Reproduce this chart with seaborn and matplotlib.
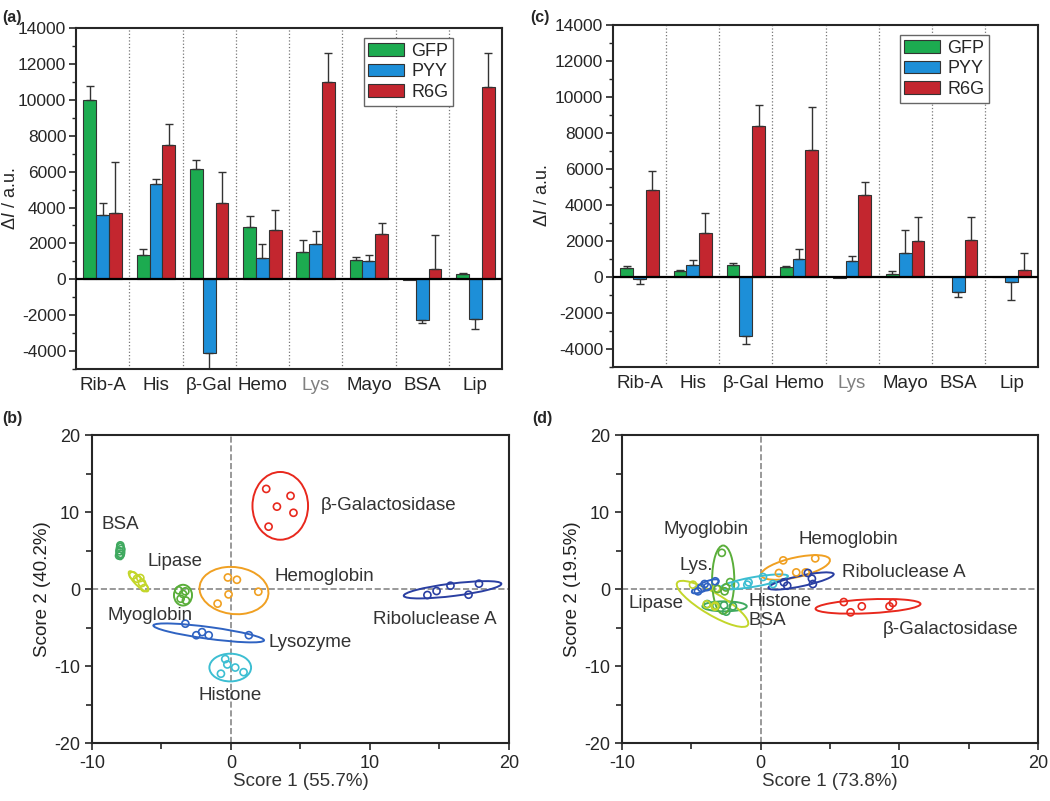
"""
plot.py

Fluorescence response bars (a, c) and PCA score plots (b, d).
"""

import matplotlib.pyplot as plt
import numpy as np
import pandas as pd
import seaborn as sns
from matplotlib.patches import Ellipse

# --- bar panels -------------------------------------------------------------
CATEGORIES = ["Rib-A", "His", "\u03b2-Gal", "Hemo", "Lys", "Mayo", "BSA", "Lip"]
DYES = ["GFP", "PYY", "R6G"]
DYE_COLORS = ["#1cab50", "#1d8fd8", "#c3262f"]

# panel (a)
A_GFP = [10000, 1350, 6150, 2900, 1500, 1100, -50, 300]
A_PYY = [3600, 5300, -4100, 1200, 1950, 1030, -2250, -2200]
A_R6G = [3700, 7500, 4230, 2770, 11020, 2540, 590, 10720]
A_GFP_ERR = [780, 350, 520, 600, 700, 150, 0, 70]
A_PYY_ERR = [660, 300, 890, 780, 760, 350, 170, 550]
A_R6G_ERR = [2850, 1130, 1740, 1070, 1610, 590, 1850, 1910]

# panel (c)
C_GFP = [520, 315, 650, 530, -30, 180, 0, 20]
C_PYY = [-90, 650, -3300, 1020, 910, 1310, -830, -300]
C_R6G = [4810, 2460, 8370, 7060, 4570, 2000, 2060, 410]
C_GFP_ERR = [70, 85, 130, 60, 0, 130, 0, 0]
C_PYY_ERR = [300, 310, 400, 550, 260, 1280, 280, 1000]
C_R6G_ERR = [1080, 1100, 1170, 2380, 690, 1310, 1290, 920]

Y_TICKS = list(range(-4000, 14001, 2000))

# --- score panels -----------------------------------------------------------
PROTEINS = ["BSA", "Lipase", "Myoglobin", "Hemoglobin", "\u03b2-Galactosidase",
            "Lysozyme", "Histone", "Riboluclease A"]
PROTEIN_COLORS = ["#3fa95f", "#c3d62a", "#5aae3a", "#f0a022", "#e8281d",
                  "#2f63c2", "#3cbed2", "#2a3fa2"]
B_LABELS = PROTEINS
D_LABELS = ["BSA", "Lipase", "Myoglobin", "Hemoglobin", "\u03b2-Galactosidase",
            "Lys.", "Histone", "Riboluclease A"]

# panel (b): five replicate scores per protein
B_X = [[-7.96, -7.9, -8.0, -7.93, -8.05],
       [-7.05, -6.76, -6.52, -6.4, -6.23],
       [-3.76, -3.45, -3.62, -3.24, -3.28],
       [-0.22, 0.43, -0.17, -0.96, 1.97],
       [2.54, 4.29, 3.31, 4.5, 2.71],
       [-3.28, -2.49, -2.08, -1.6, 1.29],
       [-0.41, -0.26, 0.31, 0.91, -0.72],
       [14.14, 14.8, 15.8, 17.1, 17.85]]
B_Y = [[5.67, 5.2, 4.9, 4.55, 4.33],
       [1.77, 1.34, 1.43, 0.78, 0.13],
       [-0.17, -0.65, -1.26, -1.5, -0.3],
       [1.5, 1.2, -0.7, -1.9, -0.35],
       [13.0, 12.1, 10.7, 9.9, 8.1],
       [-4.5, -6.0, -5.6, -6.0, -6.0],
       [-9.1, -9.8, -10.2, -10.8, -11.0],
       [-0.78, -0.26, 0.43, -0.74, 0.69]]
# confidence ellipses: centre x, centre y, width, height, angle
B_ELL_X = [-7.96, -6.65, -3.45, 0.22, 3.55, -1.6, -0.05, 15.95]
B_ELL_Y = [4.9, 1.0, -0.8, -0.2, 10.8, -5.7, -10.2, -0.1]
B_ELL_W = [0.6, 2.9, 1.3, 4.9, 4.0, 8.2, 3.0, 7.2]
B_ELL_H = [2.1, 0.7, 2.7, 6.2, 8.8, 1.5, 3.6, 1.6]
B_ELL_A = [0, -64, 0, 12, 0, -14, 0, 13]
B_LABEL_X = [-9.3, -6.0, -8.9, 3.1, 6.45, 2.7, -2.35, 10.2]
B_LABEL_Y = [8.4, 3.6, -3.5, 1.6, 10.8, -7.0, -13.8, -3.9]

# panel (d)
D_X = [[-3.85, -3.2, -2.64, -2.48, -2.0],
       [-4.88, -3.27, -3.3, -3.9, -3.2],
       [-2.8, -3.1, -2.5, -2.2, -2.6],
       [1.63, 3.94, 1.32, 2.57, 3.25],
       [6.0, 6.49, 7.3, 9.3, 9.54],
       [-4.52, -4.28, -4.04, -3.85, -3.27],
       [-1.83, -0.87, 0.17, 0.89, -0.96],
       [1.68, 1.92, 3.41, 3.7, 3.77]]
D_Y = [[-1.95, -2.16, -2.12, -2.94, -2.25],
       [0.56, -2.16, -2.3, -2.0, 0.1],
       [4.7, 0.0, 0.2, 0.9, -0.3],
       [3.72, 3.98, 2.08, 2.16, 2.16],
       [-1.69, -3.03, -2.25, -2.25, -1.82],
       [-0.3, 0.13, 0.65, 0.26, 1.0],
       [0.52, 0.87, 1.56, 0.65, 0.56],
       [0.87, 0.43, 2.08, 1.34, 0.65]]
D_ELL_X = [-2.6, -3.47, -2.7, 2.52, 7.75, -4.0, -0.46, 2.92]
D_ELL_Y = [-2.25, -1.93, 1.2, 2.8, -2.25, 0.35, 0.93, 1.04]
D_ELL_W = [3.2, 7.6, 1.6, 5.4, 7.6, 2.5, 5.1, 5.05]
D_ELL_H = [1.3, 2.2, 8.9, 2.4, 1.8, 0.9, 1.2, 1.3]
D_ELL_A = [0, -50, 0, 26, 5, 43, 18, 22]
D_LABEL_X = [-0.85, -9.5, -7.0, 2.75, 8.8, -5.85, -0.85, 5.9]
D_LABEL_Y = [-4.1, -1.85, 7.7, 6.4, -5.2, 3.1, -1.6, 2.2]

TEXT_COLOR = "#333333"


# ---------------------------------------------------------------------------

def _bar_panel(ax, values, errors, ylabel_x):
    df = pd.DataFrame({
        "protein": CATEGORIES * len(DYES),
        "dye": np.repeat(DYES, len(CATEGORIES)),
        "value": np.concatenate(values),
    })
    sns.barplot(data=df, x="protein", y="value", hue="dye",
                order=CATEGORIES, hue_order=DYES, palette=DYE_COLORS,
                errorbar=None, width=0.72, edgecolor="#333333",
                linewidth=0.8, saturation=1, ax=ax)

    # one-sided error bars in the direction of each bar
    for container, err in zip(ax.containers, errors):
        for bar, e in zip(container, err):
            h = bar.get_height()
            if e == 0:
                continue
            xc = bar.get_x() + bar.get_width() / 2
            yerr = [[0], [e]] if h >= 0 else [[e], [0]]
            ax.errorbar(xc, h, yerr=yerr, fmt="none", ecolor="#333333",
                        elinewidth=1.0, capsize=3, capthick=1.0)

    for i in range(len(CATEGORIES) - 1):
        ax.axvline(i + 0.5, color="#777777", ls=":", lw=0.9, zorder=0)
    ax.axhline(0, color="black", lw=1.6, zorder=3)

    ax.set_xlim(-0.5, len(CATEGORIES) - 0.5)
    ax.set_ylim(-5000, 14000)
    ax.set_yticks(Y_TICKS)
    ax.set_yticks(range(-5000, 14001, 1000), minor=True)
    ax.tick_params(axis="y", which="major", length=5, width=1.2,
                   labelsize=12.5, direction="out", pad=2)
    ax.tick_params(axis="y", which="minor", length=3, width=1.0)
    ax.tick_params(axis="x", length=0, labelsize=13.5, pad=6)
    ax.set_xlabel("")
    ax.set_ylabel(r"$\mathit{\Delta I}$ / a.u.", fontsize=13)
    ax.yaxis.set_label_coords(ylabel_x, 0.5)
    for lab in ax.get_xticklabels():
        if lab.get_text() == "Lys":
            lab.set_color("#808080")
    for s in ax.spines.values():
        s.set_visible(True)
        s.set_linewidth(1.5)

    leg = ax.legend(loc="upper right", bbox_to_anchor=(0.885, 0.97),
                    fontsize=13, handlelength=2.0, handleheight=0.7,
                    handletextpad=0.4, borderpad=0.25, labelspacing=0.2,
                    borderaxespad=0, fancybox=False, framealpha=1)
    leg.get_frame().set_edgecolor("#666666")
    leg.get_frame().set_linewidth(1.0)
    leg.set_title(None)


def _score_panel(ax, xs, ys, ell, labels, labels_xy, xlabel, ylabel):
    df = pd.DataFrame({
        "protein": np.repeat(PROTEINS, [len(v) for v in xs]),
        "s1": np.concatenate(xs),
        "s2": np.concatenate(ys),
    })
    ax.axvline(0, color="#888888", ls="--", lw=1.2, zorder=0)
    ax.axhline(0, color="#888888", ls="--", lw=1.2, zorder=0)

    sns.scatterplot(data=df, x="s1", y="s2", hue="protein",
                    hue_order=PROTEINS, palette=PROTEIN_COLORS,
                    s=26, linewidth=1.2, legend=False, ax=ax, zorder=3)
    coll = ax.collections[-1]
    coll.set_edgecolors(coll.get_facecolors())
    coll.set_facecolors("none")

    for cx, cy, w, h, a, col in zip(*ell, PROTEIN_COLORS):
        ax.add_patch(Ellipse((cx, cy), w, h, angle=a, fill=False,
                             edgecolor=col, lw=1.4, zorder=2))

    for name, tx, ty in zip(labels, *labels_xy):
        ax.text(tx, ty, name, fontsize=13.5, color=TEXT_COLOR,
                ha="left", va="center")

    ax.set_xlim(-10, 20)
    ax.set_ylim(-20, 20)
    ax.set_xticks([-10, 0, 10, 20])
    ax.set_xticks([-5, 5, 15], minor=True)
    ax.set_yticks([-20, -10, 0, 10, 20])
    ax.set_yticks([-15, -5, 5, 15], minor=True)
    ax.tick_params(which="major", length=5, width=1.2, labelsize=13)
    ax.tick_params(which="minor", length=4, width=1.2)
    ax.set_xlabel(xlabel, fontsize=13.5, color=TEXT_COLOR, labelpad=1)
    ax.set_ylabel(ylabel, fontsize=13.5, color="#222222", labelpad=2)
    for s in ax.spines.values():
        s.set_visible(True)
        s.set_linewidth(1.5)


# ---------------------------------------------------------------------------

sns.set_style("ticks")
plt.rcParams["font.family"] = ["Liberation Sans", "DejaVu Sans"]
plt.rcParams["axes.unicode_minus"] = False
plt.rcParams["mathtext.fontset"] = "custom"
plt.rcParams["mathtext.it"] = "Liberation Sans:italic"
plt.rcParams["mathtext.rm"] = "Liberation Sans"

fig = plt.figure(figsize=(10.5, 8.01), dpi=100)
ax_a = fig.add_axes([0.0724, 0.5393, 0.4057, 0.4257])
ax_c = fig.add_axes([0.5838, 0.5418, 0.4048, 0.4270])
ax_b = fig.add_axes([0.0876, 0.0724, 0.3970, 0.3845])
ax_d = fig.add_axes([0.5924, 0.0724, 0.3960, 0.3845])

_bar_panel(ax_a, [A_GFP, A_PYY, A_R6G], [A_GFP_ERR, A_PYY_ERR, A_R6G_ERR],
           ylabel_x=-0.135)
_bar_panel(ax_c, [C_GFP, C_PYY, C_R6G], [C_GFP_ERR, C_PYY_ERR, C_R6G_ERR],
           ylabel_x=-0.145)

_score_panel(ax_b, B_X, B_Y,
             (B_ELL_X, B_ELL_Y, B_ELL_W, B_ELL_H, B_ELL_A),
             B_LABELS, (B_LABEL_X, B_LABEL_Y),
             "Score 1 (55.7%)", "Score 2 (40.2%)")
_score_panel(ax_d, D_X, D_Y,
             (D_ELL_X, D_ELL_Y, D_ELL_W, D_ELL_H, D_ELL_A),
             D_LABELS, (D_LABEL_X, D_LABEL_Y),
             "Score 1 (73.8%)", "Score 2 (19.5%)")

for letter, x, y in [("(a)", 0.002, 0.988), ("(c)", 0.505, 0.988),
                     ("(b)", 0.002, 0.487), ("(d)", 0.507, 0.487)]:
    fig.text(x, y, letter, fontsize=11.5, weight="bold", va="top")

fig.savefig("out.png", dpi=100)
plt.close(fig)
